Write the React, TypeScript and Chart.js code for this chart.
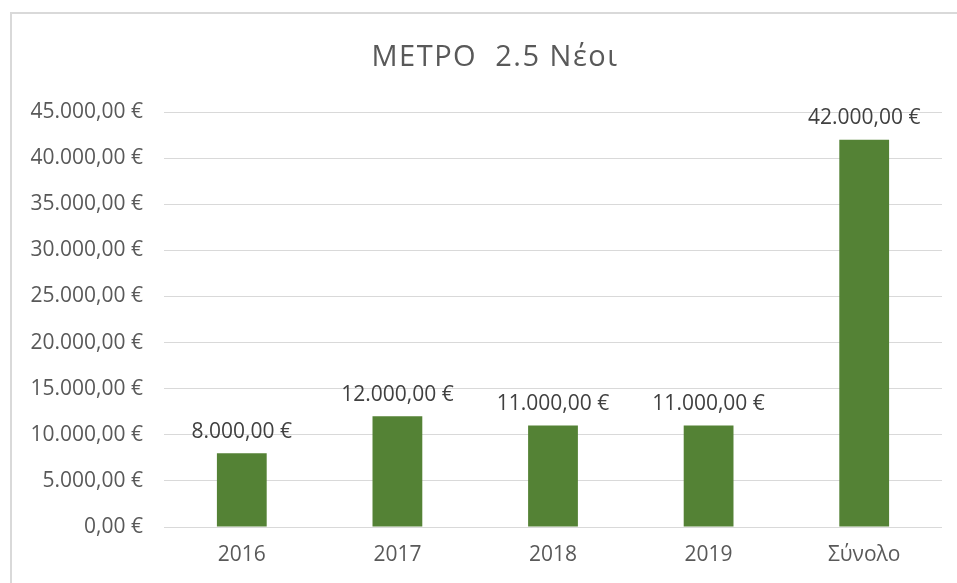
import React, { useEffect, useRef } from "react";
import { Chart, registerables } from "chart.js";

Chart.register(...registerables);

const titleText = "ΜΕΤΡΟ  2.5 Νέοι";
const categories = ["2016", "2017", "2018", "2019", "Σύνολο"];
const values = [8000, 12000, 11000, 11000, 42000];
const yMin = 0;
const yMax = 45000;
const yStep = 5000;

const FONT = "'Open Sans', sans-serif";

function fmtEuro(n: number): string {
  const fixed = Math.abs(n).toFixed(2);
  const [intPart, dec] = fixed.split(".");
  const withDots = intPart.replace(/\B(?=(\d{3})+(?!\d))/g, ".");
  return (n < 0 ? "-" : "") + withDots + "," + dec + " €";
}

const labelPlugin = {
  id: "barLabels",
  afterDatasetsDraw(chart: any) {
    const ctx = chart.ctx;
    const meta = chart.getDatasetMeta(0);
    ctx.save();
    ctx.font = `21px ${FONT}`;
    ctx.fillStyle = "#404040";
    ctx.textAlign = "center";
    ctx.textBaseline = "bottom";
    meta.data.forEach((bar: any, i: number) => {
      ctx.fillText(fmtEuro(values[i]), bar.x, bar.y - 11);
    });
    ctx.restore();
  },
};

const titlePlugin = {
  id: "customTitle",
  afterDraw(chart: any) {
    const ctx = chart.ctx;
    ctx.save();
    ctx.font = `29px ${FONT}`;
    ctx.fillStyle = "#595959";
    ctx.textAlign = "center";
    ctx.textBaseline = "middle";
    try {
      (ctx as any).letterSpacing = "1.5px";
    } catch (e) {}
    ctx.fillText(titleText, 495, 58);
    ctx.restore();
  },
};

export default function App() {
  const ref = useRef<HTMLCanvasElement | null>(null);
  useEffect(() => {
    document.body.style.margin = "0";
    const chart = new Chart(ref.current!, {
      type: "bar",
      data: {
        labels: categories,
        datasets: [
          {
            data: values,
            backgroundColor: "#548235",
            barPercentage: 0.32,
            categoryPercentage: 1,
          },
        ],
      },
      options: {
        animation: false,
        responsive: false,
        maintainAspectRatio: false,
        layout: { padding: { left: 0, right: 15, top: 112, bottom: 0 } },
        plugins: {
          legend: { display: false },
          tooltip: { enabled: false },
          title: { display: false },
        },
        scales: {
          x: {
            grid: { display: false, drawTicks: false },
            border: { display: false },
            ticks: {
              color: "#595959",
              font: { family: FONT, size: 21 },
              padding: 15,
            },
            afterFit: (axis: any) => {
              axis.height = 56;
            },
          },
          y: {
            min: yMin,
            max: yMax,
            grid: { color: "#d9d9d9", lineWidth: 1, drawTicks: false },
            border: { display: false },
            ticks: {
              stepSize: yStep,
              color: "#595959",
              font: { family: FONT, size: 21 },
              padding: 21,
              callback: (v: any) => fmtEuro(Number(v)),
            },
            afterFit: (axis: any) => {
              axis.width = 164;
            },
          },
        },
      },
      plugins: [labelPlugin, titlePlugin],
    });
    return () => chart.destroy();
  }, []);
  return (
    <div style={{ position: "relative", width: 957, height: 583, overflow: "hidden", background: "#fff" }}>
      <div
        style={{
          position: "absolute",
          left: 10,
          top: 12,
          width: 1000,
          height: 700,
          border: "2px solid #d9d9d9",
          boxSizing: "border-box",
        }}
      />
      <canvas ref={ref} width={957} height={583} style={{ position: "absolute", left: 0, top: 0, display: "block" }} />
    </div>
  );
}
